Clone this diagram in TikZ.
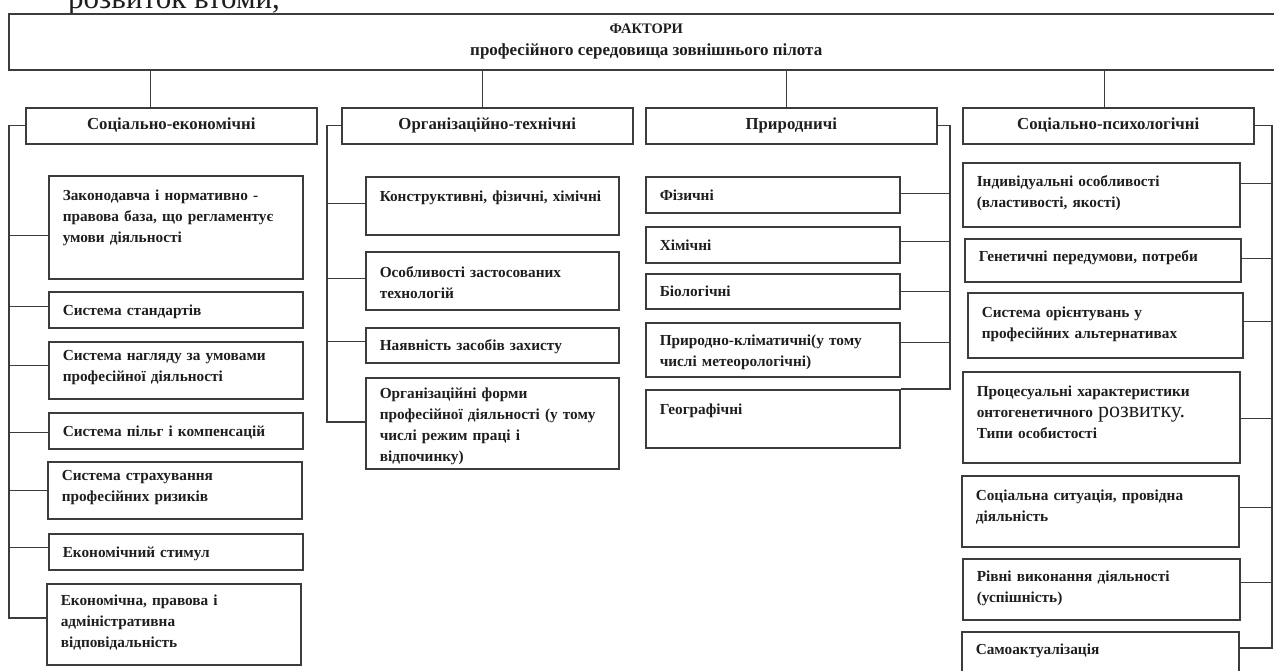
\documentclass[tikz,border=0pt]{standalone}
\usepackage{fontspec}
\setmainfont{Liberation Serif}
\usepackage{xcolor}
\usepackage{tikz}
\usetikzlibrary{calc}
\definecolor{ink}{HTML}{1E1E1E}
\definecolor{rule}{HTML}{3C3C3C}
\newcommand{\titlefont}{\fontsize{14.5}{22}\selectfont\bfseries}
\newcommand{\subtitlefont}{\fontsize{17}{22}\selectfont\bfseries}
\newcommand{\headfont}{\fontsize{16.8}{22}\selectfont\bfseries}
\newcommand{\itemfont}{\fontsize{15.3}{21}\selectfont\bfseries}
\tikzset{
  ln/.style={draw=rule, line width=1.3pt},
  frame/.style={draw=rule, line width=1.5pt, text=ink},
  head/.style={frame, anchor=north west, minimum width=291pt, minimum height=36pt, inner sep=0pt, text height=12pt, text depth=4pt, font=\headfont},
  item/.style n args={3}{frame, anchor=north west, inner xsep=14pt, inner ysep=0pt, align=left, font=\itemfont, text width=#1pt, text height=#2pt, text depth=#3pt},
}

\begin{document}
\begin{tikzpicture}[x=1pt,y=-1pt]
  \useasboundingbox (0,0) rectangle (1274,670);

  \node[anchor=base west, inner sep=0pt, text=ink, font=\fontsize{31}{31}\selectfont] (frag) at (68,8) {розвиток втоми,};

  \node[frame, anchor=north west, minimum width=1275pt, minimum height=56pt, inner sep=0pt, align=center, font=\titlefont] (top) at (8,13)
    {ФАКТОРИ\\{\subtitlefont професійного середовища зовнішнього пілота}};

  \node[head] (h1) at (25,107) {Соціально-економічні};
  \node[head] (h2) at (341,107) {Організаційно-технічні};
  \node[head] (h3) at (645,107) {Природничі};
  \node[head] (h4) at (962,107) {Соціально-психологічні};

  \node[item={226}{25}{78}] (a1) at (48,175) {Законодавча і нормативно -\\правова база, що регламентує\\умови діяльності};
  \node[item={226}{24}{12}] (a2) at (48,291) {Система стандартів};
  \node[item={226}{19}{38}] (a3) at (48,341) {Система нагляду за умовами\\професійної діяльності};
  \node[item={226}{24}{12}] (a4) at (48,412) {Система пільг і~компенсацій};
  \node[item={226}{19}{38}] (a5) at (47,461) {Система страхування\\професійних ризиків};
  \node[item={226}{24}{12}] (a6) at (48,533) {Економічний стимул};
  \node[item={226}{22}{59}] (a7) at (46,583) {Економічна, правова і\\адміністративна\\відповідальність};

  \node[item={225}{25}{33}] (b1) at (365,176) {Конструктивні, фізичні, хімічні};
  \node[item={225}{26}{32}] (b2) at (365,251) {Особливості застосованих\\технологій};
  \node[item={225}{23}{12}] (b3) at (365,327) {Наявність засобів захисту};
  \node[item={225}{21}{70}] (b4) at (365,377) {Організаційні форми\\професійної діяльності (у тому\\числі режим праці і\\відпочинку)};

  \node[item={226}{24}{12}] (c1) at (645,176) {Фізичні};
  \node[item={226}{24}{12}] (c2) at (645,226) {Хімічні};
  \node[item={226}{23}{12}] (c3) at (645,273) {Біологічні};
  \node[item={226}{23}{31}] (c4) at (645,322) {Природно-кліматичні(у тому\\числі метеорологічні)};
  \node[item={226}{25}{33}] (c5) at (645,389) {Географічні};

  \node[item={249}{24}{40}] (d1) at (962,162) {Індивідуальні особливості\\(властивості, якості)};
  \node[item={248}{23}{20}] (d2) at (964,238) {Генетичні передумови, потреби};
  \node[item={247}{25}{40}] (d3) at (967,292) {Система орієнтувань у\\професійних альтернативах};
  \node[item={249}{25}{66}] (d4) at (962,371) {Процесуальні характеристики\\онтогенетичного {\mdseries\fontsize{22}{21}\selectfont розвитку.}\\Типи особистості};
  \node[item={249}{25}{46}] (d5) at (961,475) {Соціальна ситуація, провідна\\діяльність};
  \node[item={249}{23}{38}] (d6) at (962,558) {Рівні виконання діяльності\\(успішність)};
  \node[item={249}{23}{21}] (d7) at (961,631) {Самоактуалізація};

  \foreach \h/\dx in {h1/-20.5,h2/-4.5,h3/-4.5,h4/-4}
    \draw[ln] ([xshift=\dx pt]\h.north) coordinate (v) -- (v |- top.south);

  \coordinate (t1) at (9,618);
  \coordinate (t2) at (327,422);
  \coordinate (t3) at (950,389);
  \coordinate (t4) at (1272,648);

  \draw[ln] (h1.west) -| (t1) -- (t1 -| a7.west);
  \foreach \n/\s in {a1/-8.5,a2/3,a3/4.5,a4/-2,a5/0,a6/4}
    \draw[ln] ([yshift=\s pt]\n.west) coordinate (s) -- (s -| t1);

  \draw[ln] (h2.west) -| (t2) -- (t2 -| b4.west);
  \foreach \n/\s in {b1/2,b2/2,b3/3.5}
    \draw[ln] ([yshift=\s pt]\n.west) coordinate (s) -- (s -| t2);

  \draw[ln] (h3.east) -| (t3) -- (c5.north east);
  \foreach \n/\s in {c1/1,c2/3,c3/0,c4/7}
    \draw[ln] ([yshift=\s pt]\n.east) coordinate (s) -- (s -| t3);

  \draw[ln] (h4.east) -| (t4) -- (t4 -| d7.east);
  \foreach \n/\s in {d1/11,d2/1.5,d3/3.5,d4/-1.5,d5/3.5,d6/6.5}
    \draw[ln] ([yshift=\s pt]\n.east) coordinate (s) -- (s -| t4);
\end{tikzpicture}
\end{document}
